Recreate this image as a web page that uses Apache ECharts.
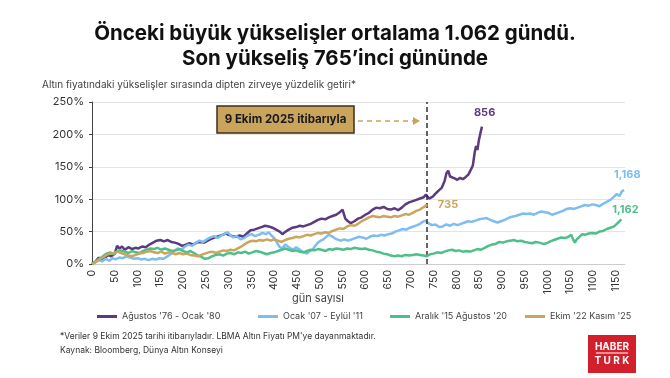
<!DOCTYPE html>
<html>
<head>
<meta charset="utf-8">
<script src="https://cdn.jsdelivr.net/npm/echarts@6/dist/echarts.min.js"></script>
<style>
  html, body { margin: 0; padding: 0; background: #fff; }
  #chart { width: 670px; height: 378px; }
</style>
</head>
<body>
<div id="chart"></div>
<script>
// seri adlari
const seriesNames = ["Ağustos '76 - Ocak '80", "Ocak '07 - Eylül '11", "Aralık '15 Ağustos '20", "Ekim '22 Kasım '25"];
const endDays = ['856', '1,168', '1,162', '735'];
const markerDay = 735;

// [gün, getiri %]
const purple = [[0,0],[8,4],[15,10],[20,6],[28,9],[35,14],[42,12],[50,16],[55,28],[60,24],[66,27],[72,22],[80,26],[88,23],[95,25],[102,24],[110,27],[118,26],[126,30],[134,33],[142,36],[150,37],[158,35],[166,37],[174,34],[182,33],[190,31],[198,28],[206,30],[214,32],[222,30],[230,33],[238,34],[246,33],[254,36],[262,39],[270,41],[278,43],[286,45],[294,47],[300,45],[308,43],[316,42],[324,44],[332,42],[340,47],[348,52],[356,53],[364,55],[372,57],[380,59],[388,58],[396,56],[404,53],[412,50],[418,46],[425,50],[432,53],[440,56],[448,57],[456,59],[464,58],[472,60],[480,62],[488,65],[496,68],[504,70],[512,69],[520,72],[528,74],[536,76],[544,80],[550,84],[556,70],[562,66],[568,63],[576,66],[584,70],[592,72],[600,76],[608,79],[616,84],[624,87],[632,86],[640,88],[648,85],[656,84],[664,86],[672,83],[680,87],[688,92],[696,95],[704,97],[712,99],[720,101],[728,103],[733,107],[740,101],[748,104],[756,110],[762,114],[768,118],[774,128],[778,140],[782,144],[786,135],[790,137],[796,132],[802,130],[808,133],[814,131],[820,134],[826,138],[832,146],[836,152],[840,172],[843,182],[846,176],[849,190],[852,200],[856,212]];

const blue = [[0,0],[8,3],[15,6],[22,4],[30,8],[38,5],[45,9],[52,7],[60,10],[68,9],[76,12],[84,10],[92,8],[100,9],[108,7],[116,8],[124,6],[132,8],[140,7],[148,9],[156,8],[164,11],[172,15],[180,20],[188,24],[196,22],[204,27],[212,30],[220,28],[228,33],[236,36],[244,34],[252,38],[260,41],[268,43],[276,40],[284,44],[292,47],[298,49],[304,44],[310,41],[318,43],[326,38],[334,40],[342,44],[350,46],[358,43],[366,45],[374,48],[382,46],[388,49],[394,44],[400,40],[406,33],[412,26],[418,24],[424,30],[430,27],[436,24],[442,22],[448,26],[454,23],[460,20],[466,18],[472,16],[478,20],[484,22],[490,28],[496,33],[502,36],[508,38],[514,42],[520,45],[526,43],[532,40],[538,38],[546,36],[554,38],[562,36],[570,38],[578,40],[586,42],[594,41],[602,39],[610,42],[618,44],[626,43],[634,45],[642,44],[650,46],[658,47],[666,50],[674,52],[682,54],[690,53],[698,56],[706,58],[714,60],[720,62],[726,65],[732,67],[738,63],[746,60],[754,61],[762,57],[770,58],[778,61],[786,59],[794,62],[802,60],[810,62],[818,64],[826,66],[834,65],[842,67],[850,69],[858,70],[866,71],[874,68],[882,66],[890,64],[898,66],[906,68],[914,71],[922,73],[930,74],[938,76],[946,78],[954,77],[962,78],[970,76],[978,79],[986,81],[994,80],[1002,79],[1010,76],[1018,78],[1026,80],[1034,82],[1042,85],[1050,86],[1058,85],[1066,87],[1074,89],[1082,91],[1090,90],[1098,92],[1106,91],[1114,89],[1122,93],[1130,96],[1138,99],[1146,104],[1152,108],[1158,105],[1163,112],[1168,114]];

const green = [[0,0],[8,4],[16,8],[24,12],[32,16],[40,18],[48,15],[56,20],[64,21],[72,19],[80,17],[88,20],[96,18],[104,17],[112,20],[120,22],[128,24],[136,23],[144,25],[152,22],[160,24],[168,22],[176,20],[184,21],[192,23],[200,20],[208,18],[216,20],[224,17],[232,13],[240,11],[248,8],[256,9],[264,12],[272,14],[280,15],[288,13],[296,16],[304,17],[312,15],[320,18],[328,17],[336,19],[344,16],[352,18],[360,20],[368,19],[376,17],[384,15],[392,17],[400,18],[408,20],[416,22],[424,24],[432,22],[440,20],[448,21],[456,19],[464,18],[472,20],[480,22],[488,21],[496,23],[504,22],[512,20],[520,23],[528,22],[536,24],[544,23],[552,22],[560,24],[568,23],[576,25],[584,24],[592,23],[600,24],[608,22],[616,21],[624,19],[632,18],[640,16],[648,15],[656,13],[664,12],[672,13],[680,12],[688,14],[696,13],[704,14],[712,15],[720,14],[728,13],[735,12],[742,15],[750,16],[758,18],[766,17],[774,19],[782,21],[790,22],[798,20],[806,21],[814,19],[822,20],[830,19],[838,21],[846,23],[854,22],[862,25],[870,28],[878,30],[886,31],[894,34],[902,33],[910,35],[918,36],[926,37],[934,35],[942,36],[950,34],[958,33],[966,32],[974,34],[982,33],[990,31],[998,32],[1006,35],[1014,37],[1022,39],[1030,41],[1038,40],[1046,42],[1052,45],[1056,38],[1060,33],[1064,38],[1070,42],[1076,46],[1082,45],[1090,47],[1098,48],[1106,47],[1114,50],[1122,51],[1130,54],[1138,56],[1146,58],[1152,62],[1158,66],[1162,69]];

const gold = [[0,0],[8,3],[16,7],[24,10],[32,14],[40,16],[48,17],[56,19],[64,17],[72,15],[80,13],[88,12],[96,14],[104,16],[112,17],[120,19],[128,20],[136,18],[144,17],[152,19],[160,16],[168,18],[176,17],[184,15],[192,17],[200,15],[208,16],[216,14],[224,13],[232,12],[240,14],[248,16],[256,18],[264,19],[272,17],[280,19],[288,21],[296,20],[304,22],[312,21],[320,24],[328,27],[336,31],[344,34],[352,36],[360,35],[368,37],[376,36],[384,38],[392,36],[400,38],[408,36],[416,34],[424,37],[432,39],[440,40],[448,42],[456,41],[464,43],[472,45],[480,44],[488,46],[496,48],[504,47],[512,49],[520,48],[528,51],[536,53],[544,55],[552,54],[560,58],[568,60],[576,59],[584,62],[592,66],[600,69],[608,72],[616,74],[624,73],[632,72],[640,74],[648,73],[656,72],[664,74],[672,73],[680,75],[688,77],[696,76],[704,79],[712,82],[720,84],[726,87],[731,89],[735,92]];

const colors = ['#5b3a7f', '#7dbdf0', '#4fbf89', '#c9a55e'];
const allData = [purple, blue, green, gold];
const labelOffsets = [[-16, -14], [-18, -15], [-17, -10], [3, 0]];
const legendLeft = [92, 253, 385, 520];

let myChart = echarts.init(document.getElementById('chart'));
const font = 'Inter, "Noto Sans", sans-serif';

let series = allData.map((d, i) => ({
    name: seriesNames[i],
    type: 'line',
    data: d,
    showSymbol: false,
    symbol: 'none',
    smooth: false,
    lineStyle: { width: 2.5, color: colors[i] },
    itemStyle: { color: colors[i] },
    z: 3 + i,
    endLabel: {
        show: true,
        formatter: endDays[i],
        color: colors[i],
        fontWeight: 'bold',
        fontSize: 11,
        fontFamily: font,
        offset: labelOffsets[i]
    }
}));
// 9 Ekim 2025 dikey cizgisi
series[3].markLine = {
    silent: true,
    symbol: 'none',
    label: { show: false },
    lineStyle: { type: [5, 3], color: '#333', width: 1.5 },
    data: [{ xAxis: markerDay }]
};

myChart.setOption({
    backgroundColor: '#fff',
    animation: false,
    textStyle: { fontFamily: font },
    grid: { left: 92, right: 45, top: 102, bottom: 114 },
    legend: seriesNames.map((n, i) => ({
        data: [n],
        left: legendLeft[i],
        top: 307,
        icon: 'rect',
        itemWidth: 20,
        itemHeight: 3,
        textStyle: { fontSize: 9, color: '#444', fontFamily: font }
    })),
    xAxis: {
        type: 'value',
        min: 0,
        max: 1170,
        interval: 50,
        axisLine: { show: true, lineStyle: { color: '#ccc' } },
        axisTick: { show: false },
        splitLine: { show: false },
        axisLabel: {
            rotate: 90,
            fontSize: 10.5,
            color: '#333',
            margin: 6,
            showMaxLabel: false,
            formatter: v => String(v)
        }
    },
    yAxis: {
        type: 'value',
        min: 0,
        max: 250,
        interval: 50,
        axisLine: { show: true, lineStyle: { color: '#444', width: 1 } },
        axisTick: { show: true, length: 3, lineStyle: { color: '#444' } },
        splitLine: { lineStyle: { color: '#e3e3e3' } },
        axisLabel: { formatter: '{value}%', fontSize: 11, color: '#333', margin: 8 }
    },
    graphic: [
        { type: 'text', left: 'center', top: 23, style: { text: 'Önceki büyük yükselişler ortalama 1.062 gündü.', font: 'bold 20.5px ' + font, fill: '#111' } },
        { type: 'text', left: 'center', top: 48, style: { text: 'Son yükseliş 765’inci gününde', font: 'bold 20.5px ' + font, fill: '#111' } },
        { type: 'text', left: 42, top: 80, style: { text: 'Altın fiyatındaki yükselişler sırasında dipten zirveye yüzdelik getiri*', font: '10px ' + font, fill: '#444' } },
        { type: 'text', x: 318, y: 299, style: { text: 'gün sayısı', font: '11px ' + font, fill: '#444', align: 'center', verticalAlign: 'middle' } },
        // not kutusu
        { type: 'rect', shape: { x: 217, y: 106, width: 137, height: 27 }, style: { fill: '#c9a45c', stroke: '#3b2f1c', lineWidth: 1.5 }, z: 10 },
        { type: 'text', x: 285.5, y: 119.5, style: { text: '9 Ekim 2025 itibarıyla', font: 'bold 11.5px ' + font, fill: '#1a1a1a', align: 'center', verticalAlign: 'middle' }, z: 11 },
        { type: 'line', shape: { x1: 358, y1: 121, x2: 414, y2: 121 }, style: { stroke: '#c9a45c', lineWidth: 1.5, lineDash: [5, 4] }, z: 10 },
        { type: 'polygon', shape: { points: [[413, 117], [420, 121], [413, 125]] }, style: { fill: '#c9a45c' }, z: 10 },
        // dipnot
        { type: 'text', left: 60, top: 332, style: { text: "*Veriler 9 Ekim 2025 tarihi itibarıyladır. LBMA Altın Fiyatı PM'ye dayanmaktadır.", font: '8.5px ' + font, fill: '#333' } },
        { type: 'text', left: 60, top: 346, style: { text: 'Kaynak: Bloomberg, Dünya Altın Konseyi', font: '8.5px ' + font, fill: '#333' } },
        // logo
        { type: 'rect', shape: { x: 588, y: 335, width: 48, height: 38 }, style: { fill: '#d21f2b' } },
        { type: 'text', x: 612, y: 347, style: { text: 'HABER', font: 'bold 10px ' + font, fill: '#fff', align: 'center', verticalAlign: 'middle' } },
        { type: 'line', shape: { x1: 596, y1: 353, x2: 628, y2: 353 }, style: { stroke: '#fff', lineWidth: 1 } },
        { type: 'text', x: 612, y: 361, style: { text: 'T U R K', font: 'bold 10px ' + font, fill: '#fff', align: 'center', verticalAlign: 'middle' } }
    ],
    series: series
});
</script>
</body>
</html>
